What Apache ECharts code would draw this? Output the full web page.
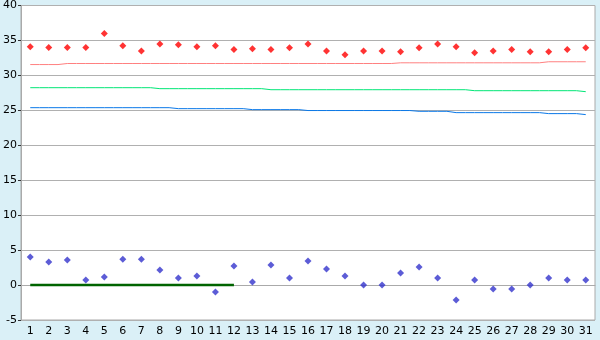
<!DOCTYPE html>
<html>
<head>
<meta charset="utf-8">
<script src="https://cdn.jsdelivr.net/npm/echarts@6/dist/echarts.min.js"></script>
<style>
html,body{margin:0;padding:0;background:#daf0f7;}
#c{width:600px;height:340px;}
</style>
</head>
<body>
<div id="c"></div>
<script>
var categories = ['1','2','3','4','5','6','7','8','9','10','11','12','13','14','15','16','17','18','19','20','21','22','23','24','25','26','27','28','29','30','31'];
var redPoints = [34.1,34.0,34.0,34.0,36.0,34.25,33.5,34.5,34.4,34.1,34.25,33.7,33.8,33.7,33.95,34.5,33.5,32.95,33.5,33.5,33.4,33.95,34.5,34.1,33.25,33.5,33.7,33.4,33.4,33.7,33.95];
var bluePoints = [4.0,3.3,3.57,0.71,1.14,3.71,3.71,2.14,1.0,1.29,-1.0,2.71,0.43,2.86,1.0,3.43,2.29,1.29,0,0,1.71,2.57,1.0,-2.14,0.71,-0.57,-0.57,0,1.0,0.71,0.71];
var pinkLine = [31.55,31.55,31.7,31.7,31.7,31.7,31.7,31.7,31.7,31.7,31.7,31.7,31.7,31.7,31.7,31.7,31.7,31.7,31.7,31.7,31.8,31.8,31.8,31.8,31.8,31.8,31.8,31.8,31.95,31.95,31.95];
var greenLine = [28.24,28.24,28.24,28.24,28.24,28.24,28.24,28.1,28.1,28.1,28.1,28.1,28.1,27.95,27.95,27.95,27.95,27.95,27.95,27.95,27.95,27.95,27.95,27.95,27.81,27.81,27.81,27.81,27.81,27.81,27.67];
var blueLine = [25.38,25.38,25.38,25.38,25.38,25.38,25.38,25.38,25.24,25.24,25.24,25.24,25.1,25.1,25.1,24.97,24.97,24.97,24.97,24.97,24.97,24.86,24.86,24.67,24.67,24.67,24.67,24.67,24.53,24.53,24.39];
var zeroLine = [0,0,0,0,0,0,0,0,0,0,0,0,null,null,null,null,null,null,null,null,null,null,null,null,null,null,null,null,null,null,null];
var yTicks = {min:-5, max:40, interval:5};

var chart = echarts.init(document.getElementById('c'));
var font = 'DejaVu Sans';
chart.setOption({
  animation: false,
  backgroundColor: '#daf0f7',
  grid: {left:20, right:5, top:5, bottom:20, show:true, backgroundColor:'#ffffff', borderColor:'#aaaaaa', borderWidth:1},
  xAxis: {
    type:'category', data:categories, boundaryGap:true,
    axisLine:{lineStyle:{color:'#aaaaaa'}},
    axisTick:{alignWithLabel:true, length:5, lineStyle:{color:'#555555'}},
    axisLabel:{interval:0, color:'#000', fontFamily:font, fontSize:11, margin:6},
    splitLine:{show:false}
  },
  yAxis: {
    type:'value', min:yTicks.min, max:yTicks.max, interval:yTicks.interval,
    axisLine:{show:true, lineStyle:{color:'#aaaaaa'}},
    axisTick:{show:true, length:3, lineStyle:{color:'#333'}},
    axisLabel:{color:'#000', fontFamily:font, fontSize:11, margin:4},
    splitLine:{lineStyle:{color:'#b0b0b0'}}
  },
  series: [
    {type:'line', data:pinkLine, step:'middle', showSymbol:false, lineStyle:{color:'#ff8080', width:1}, itemStyle:{color:'#ff8080'}},
    {type:'line', data:greenLine, step:'middle', showSymbol:false, lineStyle:{color:'#00e676', width:1}, itemStyle:{color:'#00e676'}},
    {type:'line', data:blueLine, step:'middle', showSymbol:false, lineStyle:{color:'#0a78e8', width:1}, itemStyle:{color:'#0a78e8'}},
    {type:'line', data:zeroLine, showSymbol:false, lineStyle:{color:'#006400', width:2.5}, itemStyle:{color:'#006400'}},
    {type:'scatter', data:redPoints, symbol:'diamond', symbolSize:7, itemStyle:{color:'#ff0000'}},
    {type:'scatter', data:bluePoints, symbol:'diamond', symbolSize:7, itemStyle:{color:'#3333cc'}}
  ]
});
</script>
</body>
</html>
